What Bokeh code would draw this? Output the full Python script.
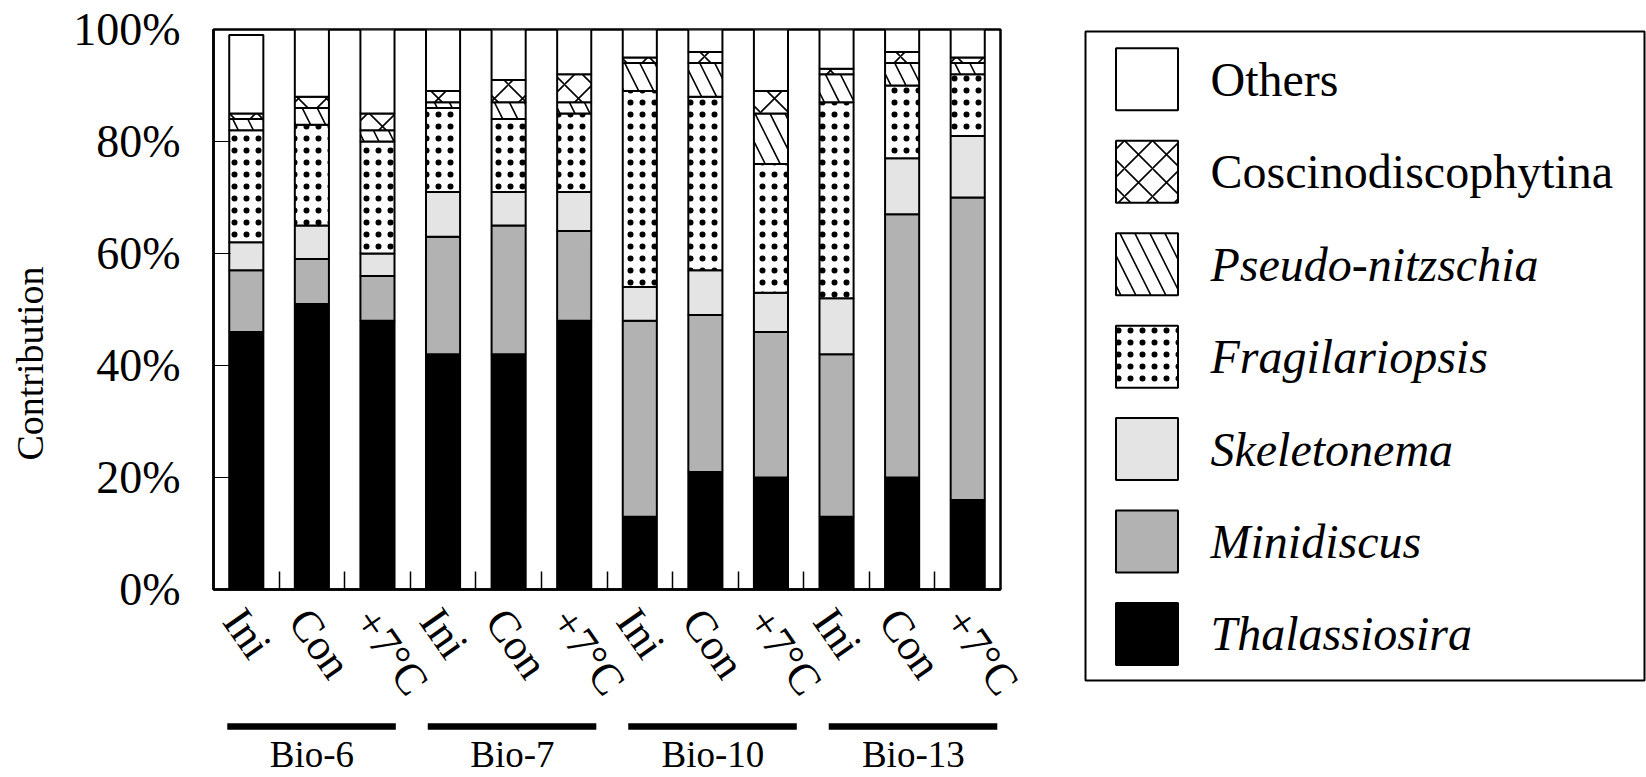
import math
from bokeh.plotting import figure
from bokeh.models import (Range1d, FixedTicker, PrintfTickFormatter, ColumnDataSource,
                          LabelSet)
from bokeh.layouts import row, column
from bokeh.core.properties import value
from bokeh.embed import file_html
from bokeh.resources import INLINE

# ---------------- data ----------------
samples = ["Ini", "Con", "+7°C"] * 4
groups = ["Bio-6", "Bio-7", "Bio-10", "Bio-13"]
series = ["Thalassiosira", "Minidiscus", "Skeletonema", "Fragilariopsis",
          "Pseudo-nitzschia", "Coscinodiscophytina", "Others"]
thalassiosira = [46, 51, 48, 42, 42, 48, 13, 21, 20, 13, 20, 16]
minidiscus = [11, 8, 8, 21, 23, 16, 35, 28, 26, 29, 47, 54]
skeletonema = [5, 6, 4, 8, 6, 7, 6, 8, 7, 10, 10, 11]
fragilariopsis = [20, 18, 20, 15, 13, 14, 35, 31, 23, 35, 13, 11]
pseudo_nitzschia = [2, 3, 2, 1, 3, 2, 5, 6, 9, 5, 4, 2]
coscinodiscophytina = [1, 2, 3, 2, 4, 5, 1, 2, 4, 1, 2, 1]
others = [14, 12, 15, 11, 9, 8, 5, 4, 11, 7, 4, 5]
y_ticks = [0, 20, 40, 60, 80, 100]
y_label = "Contribution"

# ---------------- styles ----------------
fills = ["black", "#b2b2b2", "#e4e4e4", "white", "white", "white", "white"]
hatches = ["blank", "blank", "blank", "dot", "left_diagonal_line", "diagonal_cross", "blank"]
hscales = [12, 12, 12, 12, 30, 28, 12]
hweights = [1, 1, 1, 0.9, 1.6, 1.6, 1]
legend_styles = ["normal", "normal", "italic", "italic", "italic", "italic", "italic"]
FONT = "Liberation Serif"

# x is measured in hundredths of a category slot
n = len(samples)
SLOT = 100
xs = [SLOT * i + SLOT // 2 for i in range(n)]
src = ColumnDataSource(dict(x=xs, Thalassiosira=thalassiosira, Minidiscus=minidiscus,
                            Skeletonema=skeletonema, Fragilariopsis=fragilariopsis,
                            **{"Pseudo-nitzschia": pseudo_nitzschia},
                            Coscinodiscophytina=coscinodiscophytina, Others=others))

# ---------------- y-axis title strip ----------------
t = figure(width=60, height=777, x_range=Range1d(0, 60), y_range=Range1d(680, 31),
           output_backend="svg", toolbar_location=None,
           min_border_left=0, min_border_right=0, min_border_top=31, min_border_bottom=97)
t.axis.visible = False
t.grid.visible = False
t.outline_line_color = None
t.text(x=[29], y=[363], text=[y_label], angle=90, angle_units="deg",
       text_font=value(FONT), text_font_size="38px", text_align="center",
       text_baseline="alphabetic", text_color="black")

# ---------------- main plot ----------------
p = figure(width=980, height=721, x_range=Range1d(0, SLOT * n), y_range=Range1d(0, 100),
           output_backend="svg", toolbar_location=None,
           min_border_left=153, min_border_right=40, min_border_top=29, min_border_bottom=130)
p.grid.visible = False
p.outline_line_color = "black"
p.outline_line_width = 2.5
p.background_fill_color = "white"
p.border_fill_color = "white"

p.vbar_stack(series, x="x", width=52, source=src, fill_color=fills,
             hatch_pattern=hatches, hatch_color="black", hatch_scale=hscales,
             hatch_weight=hweights, line_color="black", line_width=2)

p.yaxis.ticker = FixedTicker(ticks=y_ticks)
p.yaxis.formatter = PrintfTickFormatter(format="%d%%")
p.yaxis.major_label_text_font = FONT
p.yaxis.major_label_text_font_size = "46px"
p.yaxis.major_label_text_color = "black"
p.yaxis.major_tick_in = 17
p.yaxis.major_tick_out = 0
p.yaxis.major_tick_line_width = 1
p.yaxis.minor_tick_line_color = None
p.yaxis.axis_line_width = 2.5
p.yaxis.major_label_standoff = 33

# sample labels are the x-axis tick labels; slot boundaries are the (inward) minor ticks
label_ticks = [SLOT * i + 30 for i in range(n)]
bounds = [SLOT * i for i in range(1, n)]
p.xaxis.ticker = FixedTicker(ticks=label_ticks, minor_ticks=bounds)
p.xaxis.major_label_overrides = {tk: s for tk, s in zip(label_ticks, samples)}
p.xaxis.major_label_orientation = math.radians(-55)
p.xaxis.major_label_text_font = FONT
p.xaxis.major_label_text_font_size = "44px"
p.xaxis.major_label_text_color = "black"
p.xaxis.major_label_standoff = 24
p.xaxis.major_tick_line_color = None
p.xaxis.major_tick_in = 0
p.xaxis.major_tick_out = 0
p.xaxis.minor_tick_in = 18
p.xaxis.minor_tick_out = 0
p.xaxis.minor_tick_line_width = 1.5
p.xaxis.minor_tick_line_color = "black"
p.xaxis.axis_line_width = 2.5

# ---------------- group lines and labels below ----------------
b = figure(width=980, height=56, x_range=p.x_range, y_range=Range1d(56, 0),
           output_backend="svg", toolbar_location=None,
           min_border_left=153, min_border_right=40, min_border_top=0, min_border_bottom=0)
b.axis.visible = False
b.grid.visible = False
b.outline_line_color = None
pitch = 305.7
g0 = [pitch * g + 21 for g in range(len(groups))]
g1 = [pitch * g + 278 for g in range(len(groups))]
b.segment(x0=g0, y0=[5] * len(groups), x1=g1, y1=[5] * len(groups),
          line_color="black", line_width=6.5)
grp_src = ColumnDataSource(dict(x=[pitch * g + 150 for g in range(len(groups))],
                                y=[45] * len(groups), text=groups))
b.add_layout(LabelSet(x="x", y="y", text="text", source=grp_src, text_font=value(FONT),
                      text_font_size="37px", text_align="center",
                      text_baseline="alphabetic", text_color="black"))

# ---------------- legend ----------------
L = figure(width=606, height=777, x_range=Range1d(0, 559), y_range=Range1d(6.503, -0.517),
           output_backend="svg", toolbar_location=None,
           min_border_left=45, min_border_right=2, min_border_top=31, min_border_bottom=97)
L.axis.visible = False
L.grid.visible = False
L.outline_line_color = "black"
L.outline_line_width = 2
order = list(range(len(series)))[::-1]
lsrc = ColumnDataSource(dict(
    k=list(range(len(series))),
    name=[series[i] for i in order],
    fill=[fills[i] for i in order],
    hatch=[hatches[i] for i in order],
    hscale=[hscales[i] for i in order],
    hweight=[hweights[i] for i in order],
    style=legend_styles,
))
L.rect(x=61.5, y="k", width=62, height=62, width_units="screen", height_units="screen",
       source=lsrc, fill_color="fill", hatch_pattern="hatch", hatch_scale="hscale",
       hatch_weight="hweight", hatch_color="black", line_color="black", line_width=2)
L.text(x=125, y="k", text="name", source=lsrc, text_font=value(FONT),
       text_font_size="48px", text_font_style="style", text_baseline="middle",
       text_align="left", text_color="black")

layout = row(t, column(p, b), L)
open("out.html", "w").write(file_html(layout, INLINE))
